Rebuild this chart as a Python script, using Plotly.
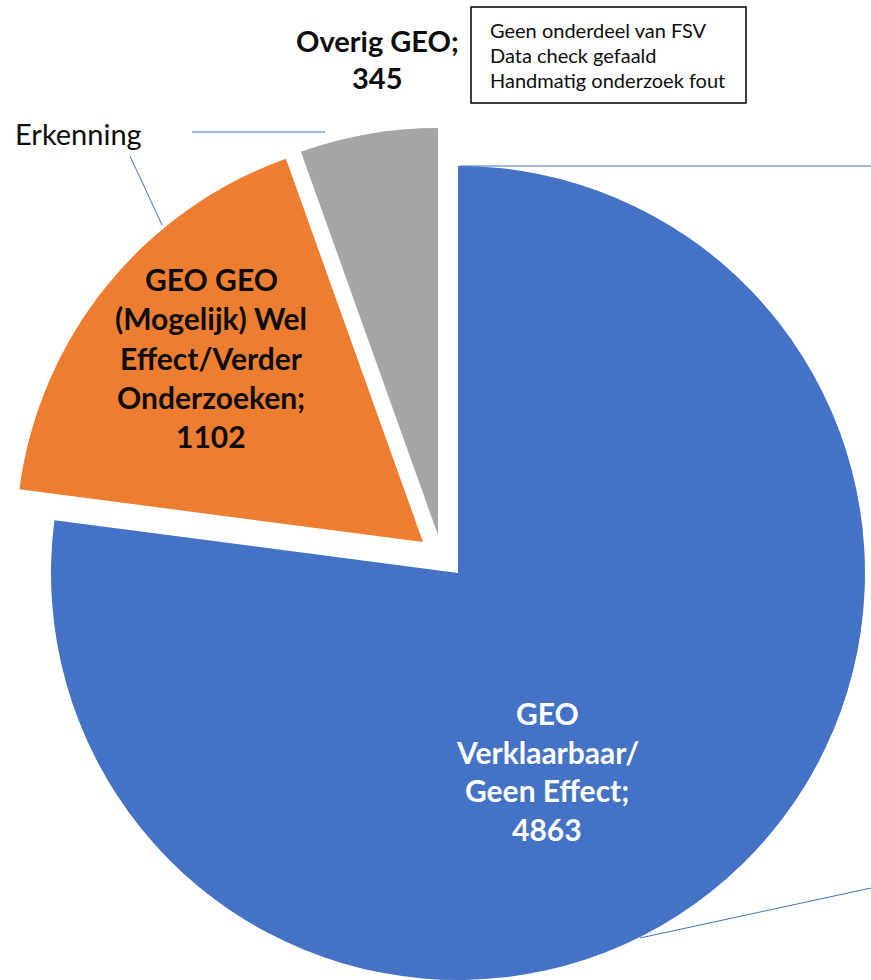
import plotly.graph_objects as go

W, H = 871, 980

# data
labels = ["GEO Verklaarbaar/ Geen Effect", "GEO GEO (Mogelijk) Wel Effect/Verder Onderzoeken", "Overig GEO"]
values = [4863, 1102, 345]
colors = ["#4472C4", "#ED7D31", "#A5A5A5"]
label_lines = [
    ["GEO", "Verklaarbaar/", "Geen Effect;", "4863"],
    ["GEO GEO", "(Mogelijk) Wel", "Effect/Verder", "Onderzoeken;", "1102"],
    ["Overig GEO;", "345"],
]
note_lines = ["Geen onderdeel van FSV", "Data check gefaald", "Handmatig onderzoek fout"]

FONT = "Lato, 'Open Sans', sans-serif"


def px(x, y):
    return x / W, 1 - y / H


def dom(cx, cy, r):
    return dict(x=[max(0, (cx - r) / W), min(1, (cx + r) / W)],
                y=[max(0, 1 - (cy + r) / H), min(1, 1 - (cy - r) / H)])


R = 407
# each slice drawn as its own pie, shifted like the exploded slices in the original
centers = [(458, 573), (423, 542), (438, 535)]

fig = go.Figure()
for i, (cx, cy) in enumerate(centers):
    cols = [c if j == i else "rgba(0,0,0,0)" for j, c in enumerate(colors)]
    fig.add_trace(go.Pie(labels=labels, values=values, sort=False, direction="clockwise",
                         rotation=0, marker=dict(colors=cols, line=dict(width=0)),
                         textinfo="none", hoverinfo="skip", showlegend=False,
                         domain=dom(cx, cy, R)))

annos = []


def add_lines(lines, x, y0, step, size, color, bold=True, xanchor="center"):
    for k, t in enumerate(lines):
        xp, yp = px(x, y0 + k * step)
        annos.append(dict(x=xp, y=yp, xref="paper", yref="paper", showarrow=False,
                          text="<b>%s</b>" % t if bold else t, xanchor=xanchor, yanchor="middle",
                          font=dict(family=FONT, size=size, color=color)))


add_lines(label_lines[0], 547, 713, 38.5, 30, "white")
add_lines(label_lines[1], 211, 279, 39.3, 30, "#0d0d0d")
add_lines(label_lines[2], 377, 41, 37, 29, "#0d0d0d")
add_lines(["Erkenning"], 13, 134, 0, 29, "#0d0d0d", bold=False, xanchor="left")
add_lines(note_lines, 488, 30, 25, 20, "#0d0d0d", bold=False, xanchor="left")

shapes = []


def seg(x0, y0, x1, y1):
    a, b = px(x0, y0)
    c, d = px(x1, y1)
    shapes.append(dict(type="line", xref="paper", yref="paper", x0=a, y0=b, x1=c, y1=d,
                       line=dict(color="#4472C4", width=1)))


seg(192, 132, 325, 132)
seg(130, 156, 162, 225)
seg(460, 166, 871, 166)
seg(640, 938, 871, 888)

a, b = px(471, 7)
c, d = px(746, 103)
shapes.append(dict(type="rect", xref="paper", yref="paper", x0=a, y0=b, x1=c, y1=d,
                   line=dict(color="black", width=1.5), fillcolor="white"))

fig.update_layout(width=W, height=H, margin=dict(l=0, r=0, t=0, b=0),
                  paper_bgcolor="white", plot_bgcolor="white",
                  annotations=annos, shapes=shapes)

fig.write_html("out.html", config=dict(displayModeBar=False),
               post_script="document.body.style.margin='0';document.body.style.overflow='hidden';")
